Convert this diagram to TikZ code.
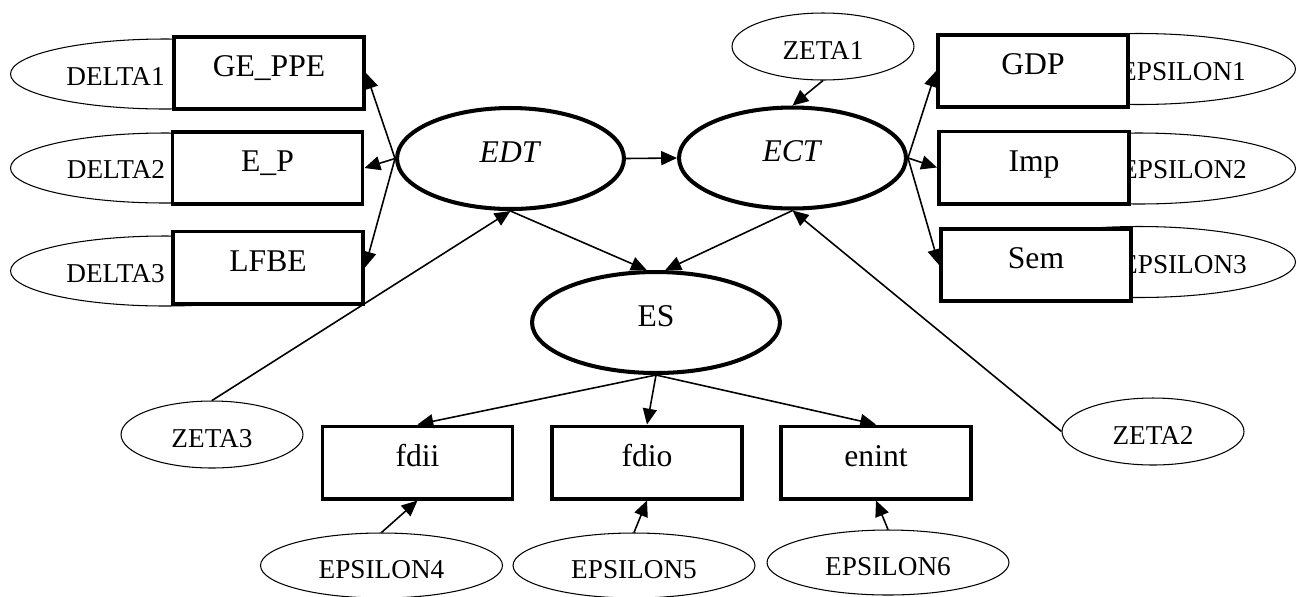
\documentclass[tikz,border=0pt]{standalone}
\usepackage{fontspec}
\setmainfont{Liberation Serif}
\usetikzlibrary{arrows.meta, shapes.geometric}

\tikzset{
  obsbox/.style={draw, rectangle, line width=2pt, fill=white,
                 minimum width=3.81cm, minimum height=1.45cm,
                 font=\fontsize{18}{20}\selectfont, text height=12pt, text depth=7.5pt},
  latent/.style={draw, ellipse, line width=2.3pt, fill=white,
                 minimum width=4.54cm, minimum height=2.02cm,
                 font=\fontsize{18}{20}\selectfont, text height=12pt, text depth=7.5pt},
  errell/.style={draw, ellipse, line width=0.6pt,
                 font=\fontsize{15.5}{17}\selectfont, text height=15pt, text depth=0.1pt},
  errtext/.style={font=\fontsize{15.5}{17}\selectfont, anchor=base, inner sep=0pt},
  link/.style={-{Triangle[length=9pt, width=8pt]}, line width=0.9pt},
}

\begin{document}
\begin{tikzpicture}[x=0.02cm, y=-0.02cm]
  \useasboundingbox (0,0) rectangle (1297,596);

  % error terms behind the indicator boxes
  \node[errell, minimum width=6.18cm, minimum height=1.4cm] (d1) at (165,74) {};
  \node[errell, minimum width=6.18cm, minimum height=1.4cm] (d2) at (165,168) {};
  \node[errell, minimum width=6.18cm, minimum height=1.4cm] (d3) at (165,271) {};
  \node[errell, minimum width=6.26cm, minimum height=1.42cm] (e1) at (1139,69) {};
  \node[errell, minimum width=6.26cm, minimum height=1.42cm] (e2) at (1139,168.5) {};
  \node[errell, minimum width=6.26cm, minimum height=1.42cm] (e3) at (1139,262) {};
  \node[errtext] (d1t) at (115.5,85) {DELTA1};
  \node[errtext] (d2t) at (116,178) {DELTA2};
  \node[errtext] (d3t) at (115.5,282) {DELTA3};
  \node[errtext] (e1t) at (1183,80) {EPSILON1};
  \node[errtext] (e2t) at (1184,178) {EPSILON2};
  \node[errtext] (e3t) at (1184,273) {EPSILON3};

  % indicators
  \node[obsbox] (geppe) at (269,73) {GE\_PPE};
  \node[obsbox] (ep)    at (267.5,168) {E\_P};
  \node[obsbox] (lfbe)  at (268,267.5) {LFBE};
  \node[obsbox] (gdp)   at (1033,71) {GDP};
  \node[obsbox] (imp)   at (1034,167.5) {Imp};
  \node[obsbox] (sem)   at (1036,265) {Sem};
  \node[obsbox] (fdii)  at (417.5,462.5) {fdii};
  \node[obsbox] (fdio)  at (647,462.5) {fdio};
  \node[obsbox] (enint) at (876,462.5) {enint};

  % latent variables
  \node[latent] (edt) at (510.5,158.5) {\textit{EDT}};
  \node[latent] (ect) at (792.5,158) {\textit{ECT}};
  \node[latent, minimum width=4.96cm] (es) at (656,322.5) {ES};

  % disturbances
  \node[errell, minimum width=3.64cm, minimum height=1.34cm] (z1) at (823,46.5) {ZETA1};
  \node[errell, minimum width=3.64cm, minimum height=1.34cm] (z3) at (212,434.5) {ZETA3};
  \node[errell, minimum width=3.64cm, minimum height=1.34cm] (z2) at (1153,431.5) {ZETA2};
  \node[errell, minimum width=4.84cm, minimum height=1.3cm] (e4) at (381.5,565.5) {EPSILON4};
  \node[errell, minimum width=4.84cm, minimum height=1.3cm] (e5) at (634,565.5) {EPSILON5};
  \node[errell, minimum width=4.84cm, minimum height=1.3cm] (e6) at (888,562.5) {EPSILON6};

  % paths
  \draw[link] (edt.west) -- (geppe.east);
  \draw[link] (edt.west) -- (ep.east);
  \draw[link] (edt.west) -- (lfbe.east);
  \draw[link] (edt.east) -- (ect.west);
  \draw[link] (ect.east) -- (gdp.west);
  \draw[link] (ect.east) -- (imp.west);
  \draw[link] (ect.east) -- (sem.west);
  \draw[link] (z1.south) -- (ect.north);
  \draw[link] (z3.north) -- (edt.south);
  \draw[link] (z2.west) -- (ect.south);
  \draw[link] (edt.south) -- (es.100);
  \draw[link] (ect.south) -- (es.80);
  \draw[link] (es.south) -- (fdii.north);
  \draw[link] (es.south) -- (fdio.north);
  \draw[link] (es.south) -- (enint.north);
  \draw[link] (e4.north) -- (fdii.south);
  \draw[link] (e5.north) -- (fdio.south);
  \draw[link] (e6.north) -- (enint.south);
\end{tikzpicture}
\end{document}
